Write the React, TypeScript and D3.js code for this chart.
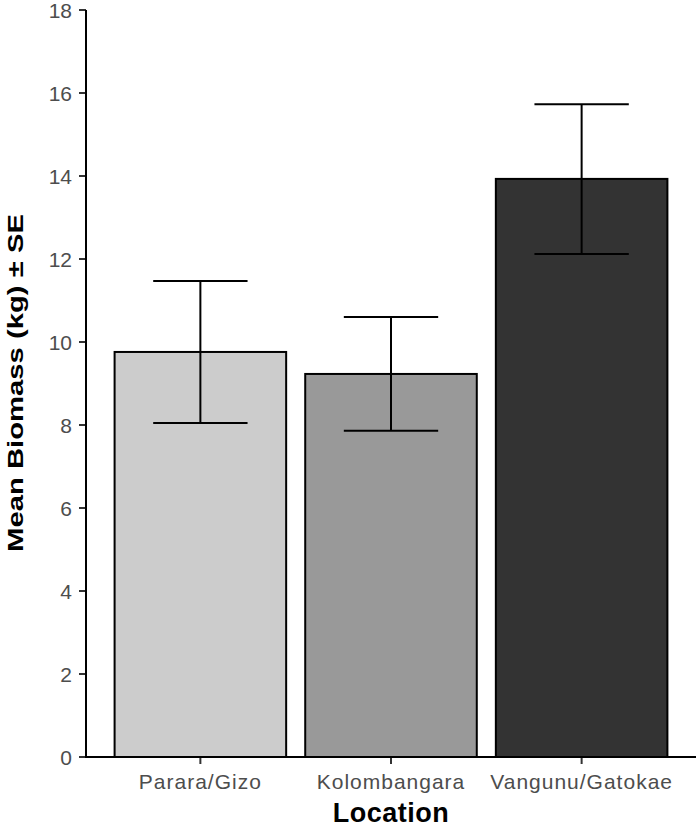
import React from "react";
import * as d3 from "d3";

const categories = ["Parara/Gizo", "Kolombangara", "Vangunu/Gatokae"];
const means = [9.76, 9.23, 13.93];
const seUpper = [11.47, 10.6, 15.73];
const seLower = [8.05, 7.86, 12.12];
const fills = ["#cccccc", "#999999", "#333333"];
const yTicks = [0, 2, 4, 6, 8, 10, 12, 14, 16, 18];

export default function App() {
  const W = 700, H = 829;
  const left = 86, right = 696, top = 10, bottom = 757;
  const x = d3.scaleBand<string>().domain(categories).range([left, right]).paddingInner(0.1).paddingOuter(0.15);
  const y = d3.scaleLinear().domain([0, 18]).range([bottom, top]);
  const bw = x.bandwidth();
  const capW = bw * 0.55;
  const font = "'Liberation Sans', Arial, sans-serif";
  return (
    <svg width={W} height={H} style={{ position: "absolute", left: 0, top: 0 }} fontFamily={font}>
      <rect width={W} height={H} fill="#fff" />
      {categories.map((c, i) => {
        const cx = x(c)! + bw / 2;
        return (
          <g key={c}>
            <rect x={x(c)} y={y(means[i])} width={bw} height={y(0) - y(means[i])} fill={fills[i]} stroke="#000" strokeWidth={2} />
            <line x1={cx} x2={cx} y1={y(seUpper[i])} y2={y(seLower[i])} stroke="#000" strokeWidth={2} />
            <line x1={cx - capW / 2} x2={cx + capW / 2} y1={y(seUpper[i])} y2={y(seUpper[i])} stroke="#000" strokeWidth={2} />
            <line x1={cx - capW / 2} x2={cx + capW / 2} y1={y(seLower[i])} y2={y(seLower[i])} stroke="#000" strokeWidth={2} />
            <line x1={cx} x2={cx} y1={bottom} y2={bottom + 7} stroke="#333" strokeWidth={2} />
            <text x={cx} y={789} textAnchor="middle" fontSize={21} letterSpacing={1} fill="#4d4d4d">{c}</text>
          </g>
        );
      })}
      {yTicks.map((t) => (
        <g key={t}>
          <line x1={left - 7} x2={left} y1={y(t)} y2={y(t)} stroke="#333" strokeWidth={2} />
          <text x={72} y={y(t)} dy="0.36em" textAnchor="end" fontSize={21} fill="#4d4d4d">{t}</text>
        </g>
      ))}
      <line x1={left} x2={left} y1={top} y2={bottom + 1} stroke="#000" strokeWidth={2} />
      <line x1={left - 1} x2={right} y1={bottom} y2={bottom} stroke="#000" strokeWidth={2} />
      <text x={391} y={822} textAnchor="middle" fontSize={27} fontWeight="bold" letterSpacing={0.5} fill="#000">Location</text>
      <text transform={`translate(23, 383) rotate(-90) scale(1.33, 1)`} textAnchor="middle" fontSize={22} fontWeight="bold" fill="#000">Mean Biomass (kg) ± SE</text>
    </svg>
  );
}
